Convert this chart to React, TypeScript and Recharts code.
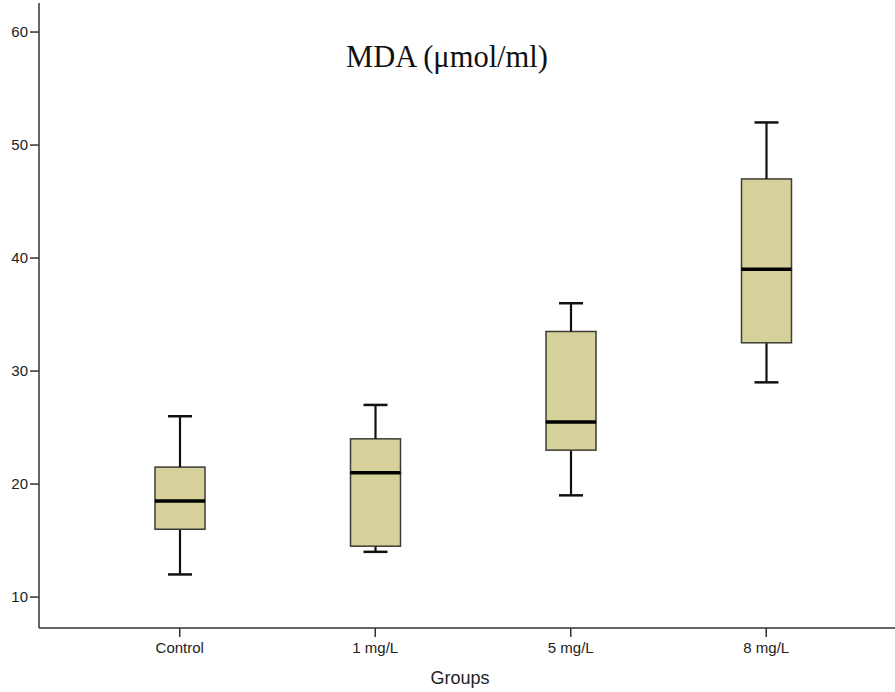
import { ComposedChart, Bar, XAxis, YAxis } from "recharts"

const groups = ["Control", "1 mg/L", "5 mg/L", "8 mg/L"]
const mins = [12, 14, 19, 29]
const q1s = [16, 14.5, 23, 32.5]
const medians = [18.5, 21, 25.5, 39]
const q3s = [21.5, 24, 33.5, 47]
const maxs = [26, 27, 36, 52]
const yTicks = [10, 20, 30, 40, 50, 60]

// stacked segments: min -> q1 -> median -> q3 -> max
const data = groups.map((g, i) => ({
  group: g,
  base: mins[i],
  lowWhisker: q1s[i] - mins[i],
  lowBox: medians[i] - q1s[i],
  highBox: q3s[i] - medians[i],
  highWhisker: maxs[i] - q3s[i]
}))

const BOX_FILL = "#d6d09b"
const BOX_STROKE = "#3c3c34"
const CAP = 24

function LowWhisker(props: any) {
  const { x, y, width, height } = props
  const cx = x + width / 2
  const bottom = y + height
  return (
    <g>
      <line x1={cx} y1={y} x2={cx} y2={bottom} stroke="#111" strokeWidth={2.2} />
      <line x1={cx - CAP / 2} y1={bottom} x2={cx + CAP / 2} y2={bottom} stroke="#111" strokeWidth={2.5} />
    </g>
  )
}

function HighWhisker(props: any) {
  const { x, y, width, height } = props
  const cx = x + width / 2
  return (
    <g>
      <line x1={cx} y1={y} x2={cx} y2={y + height} stroke="#111" strokeWidth={2.2} />
      <line x1={cx - CAP / 2} y1={y} x2={cx + CAP / 2} y2={y} stroke="#111" strokeWidth={2.5} />
    </g>
  )
}

function LowBox(props: any) {
  const { x, y, width, height } = props
  return <rect x={x} y={y} width={width} height={height} fill={BOX_FILL} stroke={BOX_STROKE} strokeWidth={1.5} />
}

function HighBox(props: any) {
  const { x, y, width, height } = props
  const bottom = y + height
  return (
    <g>
      <rect x={x} y={y} width={width} height={height} fill={BOX_FILL} stroke={BOX_STROKE} strokeWidth={1.5} />
      <line x1={x} y1={bottom} x2={x + width} y2={bottom} stroke="#000" strokeWidth={3.5} />
    </g>
  )
}

function App() {
  return (
    <div style={{ position: "absolute", left: 0, top: 0, width: 895, height: 692, background: "#fff" }}>
      <ComposedChart
        width={895}
        height={692}
        data={data}
        margin={{ top: 3, right: 0, bottom: 0, left: 0 }}
        style={{ fontFamily: "Liberation Sans, Arial, sans-serif" }}
      >
        <XAxis
          dataKey="group"
          type="category"
          height={64}
          padding={{ left: 43, right: 31 }}
          tickSize={9}
          tickMargin={5}
          axisLine={{ stroke: "#333", strokeWidth: 1.5 }}
          tickLine={{ stroke: "#333", strokeWidth: 1.5 }}
          tick={{ fill: "#222", fontSize: 15 }}
        />
        <YAxis
          type="number"
          domain={[7.26, 62.57]}
          ticks={yTicks}
          allowDataOverflow
          width={39}
          tickSize={9}
          tickMargin={2}
          axisLine={{ stroke: "#333", strokeWidth: 1.5 }}
          tickLine={{ stroke: "#333", strokeWidth: 1.5 }}
          tick={{ fill: "#222", fontSize: 15 }}
        />
        <Bar dataKey="base" stackId="box" barSize={50} fill="transparent" isAnimationActive={false} />
        <Bar dataKey="lowWhisker" stackId="box" barSize={50} shape={LowWhisker} isAnimationActive={false} />
        <Bar dataKey="lowBox" stackId="box" barSize={50} shape={LowBox} isAnimationActive={false} />
        <Bar dataKey="highBox" stackId="box" barSize={50} shape={HighBox} isAnimationActive={false} />
        <Bar dataKey="highWhisker" stackId="box" barSize={50} shape={HighWhisker} isAnimationActive={false} />
      </ComposedChart>
      <svg
        width={895}
        height={692}
        style={{ position: "absolute", left: 0, top: 0, pointerEvents: "none" }}
      >
        <text x={447} y={67} textAnchor="middle" fontFamily="Liberation Serif, Times New Roman, serif" fontSize={30.5} fill="#111">
          MDA (μmol/ml)
        </text>
        <text x={460} y={684} textAnchor="middle" fontFamily="Liberation Sans, Arial, sans-serif" fontSize={18} fill="#222">
          Groups
        </text>
      </svg>
    </div>
  )
}

export default App
